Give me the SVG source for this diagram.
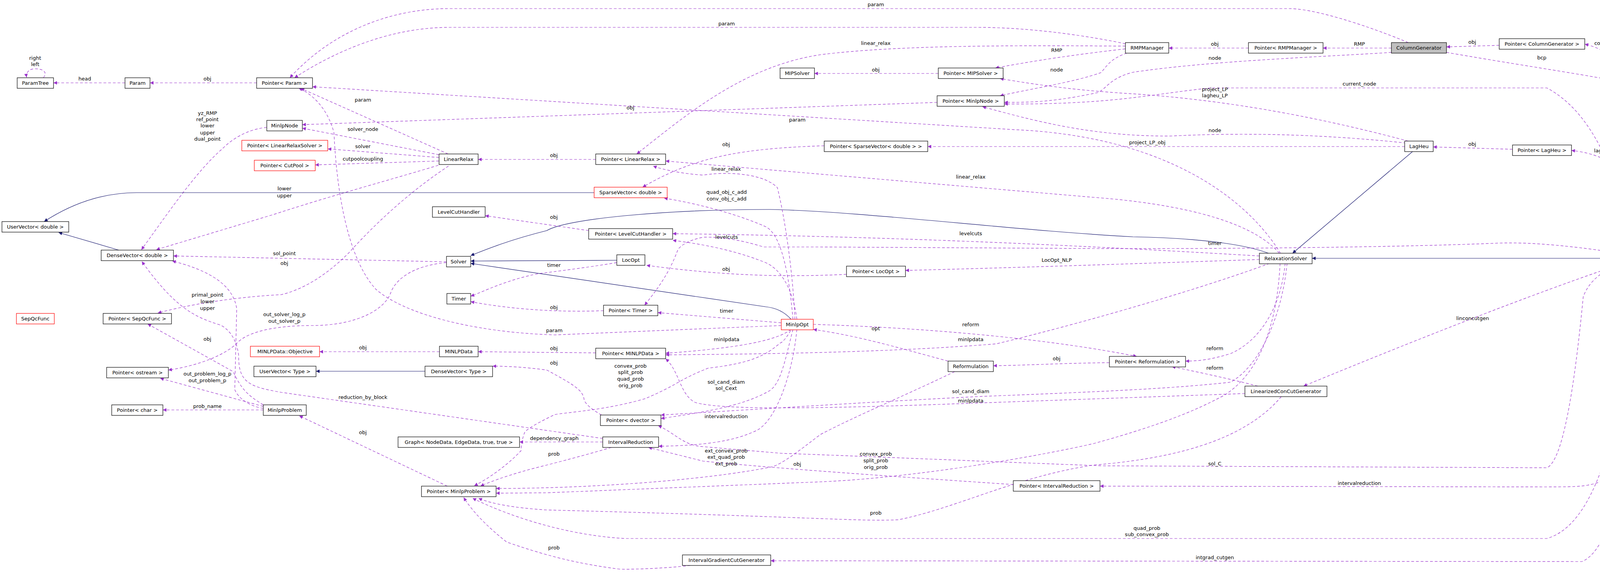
<svg xmlns="http://www.w3.org/2000/svg" width="4245" height="1497" viewBox="0 0 4245 1497">
<style>
text{font-family:"DejaVu Sans","Liberation Sans",sans-serif;font-size:13px;fill:#000}
.nt{text-anchor:middle}
.lb{text-anchor:middle}
rect{fill:#fff;stroke:#000;stroke-width:1.2}
rect.red{stroke:#ff0000}
rect.gray{fill:#bfbfbf}
.e{fill:none;stroke:#9a32cd;stroke-width:1.2;stroke-dasharray:7,5;marker-end:url(#ap)}
.i{fill:none;stroke:#191970;stroke-width:1.2;marker-end:url(#ab)}
</style>
<defs>
<marker id="ap" viewBox="0 0 10 10" refX="10" refY="5" markerWidth="13" markerHeight="9" markerUnits="userSpaceOnUse" orient="auto"><path d="M0,0 L10,5 L0,10 z" fill="#9a32cd"/></marker>
<marker id="ab" viewBox="0 0 10 10" refX="10" refY="5" markerWidth="13" markerHeight="9" markerUnits="userSpaceOnUse" orient="auto"><path d="M0,0 L10,5 L0,10 z" fill="#191970"/></marker>
</defs>
<rect x="0" y="0" width="4245" height="1497" style="fill:#fff;stroke:none"/>
<g id="connectors">
<path class="e" d="M111,199 C122,185 112,176 90,176 C74,176 66,186 68,198"/>
<text class="lb" x="90" y="153">right</text><text class="lb" x="90" y="169">left</text>
<path class="e" d="M320,212 L137,212"/><text class="lb" x="217" y="206">head</text>
<path class="e" d="M657,212 L384,212"/><text class="lb" x="531" y="206">obj</text>
<path class="e" d="M3605,109 C3550,85 3380,22 3300,22 L1150,22 C1000,22 850,80 742,199"/><text class="lb" x="2242" y="16">param</text>
<path class="e" d="M2881,112 C2800,95 2650,70 2500,70 L1150,70 C1000,70 860,130 754,199"/><text class="lb" x="1860" y="65">param</text>
<path class="e" d="M1147,394 L770,226"/><text class="lb" x="929" y="260">param</text>
<path class="e" d="M3278,648 C3200,520 3000,350 2600,332 L800,222"/><text class="lb" x="2041" y="311">param</text>
<path class="e" d="M2000,833 L1420,857 C1200,850 1030,800 962,740 C880,650 860,450 855,340 C840,280 800,240 765,226"/><text class="lb" x="1419" y="850">param</text>
<path class="e" d="M683,326 C640,330 600,350 570,380 C500,440 420,560 362,639"/>
<text class="lb" x="531" y="294">yz_RMP</text><text class="lb" x="531" y="310">ref_point</text><text class="lb" x="531" y="326">lower</text><text class="lb" x="531" y="344">upper</text><text class="lb" x="531" y="360">dual_point</text>
<path class="e" d="M1124,396 L774,328"/><text class="lb" x="929" y="335">solver_node</text>
<path class="e" d="M2399,262 L774,319"/><text class="lb" x="1614" y="280">obj</text>
<path class="e" d="M1124,403 L839,381"/><text class="lb" x="929" y="379">solver</text>
<path class="e" d="M1124,412 L807,422"/><text class="lb" x="929" y="411">cutpoolcoupling</text>
<path class="e" d="M1525,408 L1224,408"/><text class="lb" x="1418" y="402">obj</text>
<path class="e" d="M1122,423 C1000,460 850,500 700,549 L400,639"/><text class="lb" x="728" y="487">lower</text><text class="lb" x="728" y="505">upper</text>
<path class="e" d="M1148,425 C1080,470 990,540 893,647 C840,700 780,740 720,754 C600,760 480,780 404,801"/>
<text class="lb" x="728" y="678">obj</text>
<text class="lb" x="531" y="759">primal_point</text><text class="lb" x="531" y="776">lower</text><text class="lb" x="531" y="793">upper</text>
<path class="e" d="M674,1045 C640,1040 610,1020 601,997 L606,790 C600,750 570,700 441,668"/>
<path class="e" d="M1543,1122 L720,1004 C640,990 610,980 611,910 C605,860 580,840 565,832 C500,812 450,790 363,669"/><text class="lb" x="929" y="1021">reduction_by_block</text>
<path class="e" d="M674,1036 C630,1010 615,990 597,951 L378,829"/><text class="lb" x="531" y="872">obj</text>
<path class="e" d="M674,1040 L410,968"/><text class="lb" x="531" y="961">out_problem_log_p</text><text class="lb" x="531" y="978">out_problem_p</text>
<path class="e" d="M674,1049 L417,1049"/><text class="lb" x="531" y="1044">prob_name</text>
<path class="e" d="M1143,672 C1050,680 1010,720 1000,750 C980,800 900,833 800,833 C700,833 630,850 605,880 C560,920 480,940 431,947"/><text class="lb" x="728" y="809">out_solver_log_p</text><text class="lb" x="728" y="826">out_solver_p</text>
<path class="e" d="M1143,670 L444,655"/><text class="lb" x="728" y="653">sol_point</text>
<path class="e" d="M1579,672 C1500,685 1420,695 1380,700 C1300,715 1240,745 1205,758"/><text class="lb" x="1418" y="683">timer</text>
<path class="e" d="M1545,795 C1420,800 1300,790 1205,772"/><text class="lb" x="1418" y="791">obj</text>
<path class="i" d="M1521,493 L350,493 C250,493 170,530 113,567"/>
<path class="i" d="M304,640 L150,595"/>
<path class="i" d="M3247,648 C3200,630 3100,610 2900,606 C2600,590 2200,540 1970,536 C1700,536 1450,560 1400,590 C1300,615 1240,640 1205,654"/>
<path class="i" d="M1579,666 L1205,668"/>
<path class="i" d="M2025,817 C2010,800 1990,788 1960,785 L1205,674"/>
<path class="i" d="M3616,388 L3309,648"/>
<path class="i" d="M4150,661 L3359,661"/>
<path class="i" d="M1088,950 L809,950"/>
<path class="e" d="M2402,188 L2085,188"/><text class="lb" x="2242" y="183">obj</text>
<path class="e" d="M2881,125 C2750,140 2650,155 2548,174"/><text class="lb" x="2705" y="133">RMP</text>
<path class="e" d="M2881,118 C2600,116 2300,115 2100,140 C1900,170 1750,300 1630,394"/><text class="lb" x="2242" y="115">linear_relax</text>
<path class="e" d="M2885,136 C2840,150 2830,175 2818,186 C2750,210 2650,225 2560,245"/><text class="lb" x="2705" y="183">node</text>
<path class="e" d="M3196,123 L2992,123"/><text class="lb" x="3110" y="117">obj</text>
<path class="e" d="M3562,123 L3387,123"/><text class="lb" x="3480" y="117">RMP</text>
<path class="e" d="M3562,134 C3400,145 3100,155 2900,185 C2840,200 2830,230 2810,237 C2700,260 2650,262 2571,262"/><text class="lb" x="3110" y="153">node</text>
<path class="e" d="M4190,648 C4150,500 4100,300 3960,225 L3100,225 C2950,240 2850,268 2571,266"/><text class="lb" x="3480" y="219">current_node</text>
<path class="e" d="M3600,366 C3400,345 3200,338 3000,348 C2800,350 2650,310 2515,273"/><text class="lb" x="3110" y="338">node</text>
<path class="e" d="M3605,361 C3450,320 3200,260 2900,240 C2800,234 2700,225 2560,201"/><text class="lb" x="3110" y="233">project_LP</text><text class="lb" x="3110" y="249">lagheu_LP</text>
<path class="e" d="M3596,375 L2375,375"/><text class="lb" x="2937" y="369">project_LP_obj</text>
<path class="e" d="M2110,373 C1900,380 1780,400 1645,479"/><text class="lb" x="1859" y="374">obj</text>
<path class="e" d="M3275,648 C3200,560 3000,520 2800,505 L1704,412"/><text class="lb" x="2485" y="457">linear_relax</text>
<path class="e" d="M2035,817 C2030,700 2010,560 1990,480 C1950,440 1850,440 1800,448 C1750,445 1700,435 1672,425"/><text class="lb" x="1859" y="437">linear_relax</text>
<path class="e" d="M2030,817 C2020,700 2000,600 1960,580 C1880,545 1780,520 1700,507"/><text class="lb" x="1860" y="496">quad_obj_c_add</text><text class="lb" x="1860" y="513">conv_obj_c_add</text>
<path class="e" d="M2040,817 C2030,740 2000,690 1960,672 C1880,640 1800,625 1722,615"/><text class="lb" x="1860" y="611">levelcuts</text>
<path class="e" d="M3224,655 C2800,630 2300,605 1722,598"/><text class="lb" x="2485" y="602">levelcuts</text>
<path class="e" d="M1507,590 L1242,552"/><text class="lb" x="1418" y="560">obj</text>
<path class="e" d="M3224,664 C2900,675 2600,685 2318,692"/><text class="lb" x="2705" y="670">LocOpt_NLP</text>
<path class="e" d="M2167,702 C2000,710 1850,705 1655,679"/><text class="lb" x="1859" y="693">obj</text>
<path class="e" d="M4145,648 C4000,625 3900,620 3840,622 C3600,632 3200,637 2800,636 L2100,632 L1955,632 C1900,615 1850,606 1800,607 C1760,615 1740,630 1735,640 C1720,680 1700,720 1650,781"/><text class="lb" x="3110" y="627">timer</text>
<path class="e" d="M2000,826 L1684,800"/><text class="lb" x="1860" y="800">timer</text>
<path class="e" d="M2025,843 C1990,870 1900,890 1704,904"/><text class="lb" x="1860" y="873">minlpdata</text>
<path class="e" d="M3250,674 C3100,730 2800,820 2550,880 C2300,900 2000,906 1704,908"/><text class="lb" x="2485" y="873">minlpdata</text>
<path class="e" d="M1525,903 L1224,900"/><text class="lb" x="1418" y="896">obj</text>
<path class="e" d="M1125,900 L818,900"/><text class="lb" x="929" y="894">obj</text>
<path class="e" d="M2427,924 C2300,890 2200,860 2082,843"/><text class="lb" x="2242" y="845">opt</text>
<path class="e" d="M2082,830 C2400,840 2700,870 2910,912"/><text class="lb" x="2485" y="835">reform</text>
<path class="e" d="M2840,928 C2700,930 2650,934 2543,936"/><text class="lb" x="2705" y="922">obj</text>
<path class="e" d="M3290,674 C3280,780 3230,870 3150,905 C3100,920 3070,924 3035,924"/><text class="lb" x="3110" y="896">reform</text>
<path class="e" d="M3220,988 C3150,970 3080,955 3000,938"/><text class="lb" x="3110" y="946">reform</text>
<path class="e" d="M4155,674 C3900,760 3600,880 3337,988"/><text class="lb" x="3770" y="819">linconcutgen</text>
<path class="e" d="M3295,674 C3280,820 3220,940 3150,978 C3000,995 2800,1003 2500,1015 C2200,1030 1900,1050 1692,1062"/><text class="lb" x="2485" y="1006">sol_cand_diam</text>
<path class="e" d="M3187,1007 L2400,1035 C2100,1045 1850,1050 1780,1030 C1740,1010 1740,950 1704,918"/><text class="lb" x="2485" y="1030">minlpdata</text>
<path class="e" d="M2030,843 C2010,920 2000,980 1970,1000 C1900,1040 1800,1055 1692,1071"/><text class="lb" x="1859" y="982">sol_cand_diam</text><text class="lb" x="1859" y="998">sol_Cext</text>
<path class="e" d="M2040,843 C2030,950 1990,1070 1940,1100 C1880,1130 1800,1140 1686,1142"/><text class="lb" x="1859" y="1070">intervalreduction</text>
<path class="e" d="M4150,674 C4080,700 4060,740 4053,760 C4030,1000 4000,1180 3960,1197 L2820,1192 C2500,1180 2200,1167 2000,1160 L1800,1143 C1750,1140 1730,1110 1685,1089"/><text class="lb" x="3110" y="1191">sol_C</text>
<path class="e" d="M2594,1240 C2300,1220 2000,1200 1800,1180 L1660,1145"/><text class="lb" x="2041" y="1192">obj</text>
<path class="e" d="M4185,674 C4170,900 4150,1150 4130,1215 C4080,1250 4030,1245 3960,1246 L2816,1244"/><text class="lb" x="3480" y="1241">intervalreduction</text>
<path class="e" d="M4190,674 C4170,900 4130,1330 3960,1378 L1600,1378 C1450,1370 1300,1320 1210,1275"/><text class="lb" x="2936" y="1356">quad_prob</text><text class="lb" x="2936" y="1372">sub_convex_prob</text>
<path class="e" d="M4195,674 C4180,1000 4160,1390 4050,1437 L1973,1435"/><text class="lb" x="3110" y="1431">intgrad_cutgen</text>
<path class="e" d="M1767,1447 C1700,1455 1600,1458 1583,1456 C1500,1445 1420,1430 1297,1387 C1250,1350 1210,1310 1187,1273"/><text class="lb" x="1418" y="1406">prob</text>
<path class="e" d="M3277,674 C3270,820 3230,950 3135,1011 C3080,1040 3000,1080 2800,1135 C2600,1180 2300,1225 2100,1233 L1400,1261 L1270,1262"/><text class="lb" x="2242" y="1166">convex_prob</text><text class="lb" x="2242" y="1183">split_prob</text><text class="lb" x="2242" y="1200">orig_prob</text>
<path class="e" d="M3280,1015 C3200,1110 3050,1170 2800,1190 C2600,1220 2450,1300 2300,1330 C2200,1335 2100,1323 1400,1305 C1320,1300 1260,1290 1225,1275"/><text class="lb" x="2242" y="1317">prob</text>
<path class="e" d="M2444,951 C2300,1020 2200,1060 2100,1112 C2050,1150 2000,1190 1974,1195 C1800,1230 1500,1250 1270,1250"/><text class="lb" x="1859" y="1158">ext_convex_prob</text><text class="lb" x="1859" y="1174">ext_quad_prob</text><text class="lb" x="1859" y="1191">ext_prob</text>
<path class="e" d="M2024,846 C2010,870 2000,878 1997,878 C1960,910 1920,930 1813,942 C1780,955 1760,965 1735,979 C1700,1000 1652,1020 1652,1020 C1550,1050 1450,1055 1420,1061 C1380,1080 1345,1100 1343,1107 C1334,1130 1334,1150 1334,1153 C1300,1190 1250,1225 1214,1243"/><text class="lb" x="1614" y="941">convex_prob</text><text class="lb" x="1614" y="957">split_prob</text><text class="lb" x="1614" y="974">quad_prob</text><text class="lb" x="1614" y="991">orig_prob</text>
<path class="e" d="M1543,1131 L1330,1131"/><text class="lb" x="1419" y="1126">dependency_graph</text>
<path class="e" d="M1565,1145 C1480,1170 1400,1190 1380,1195 C1320,1210 1260,1230 1230,1244"/><text class="lb" x="1418" y="1166">prob</text>
<path class="e" d="M1145,1244 L766,1064"/><text class="lb" x="929" y="1111">obj</text>
<path class="e" d="M1540,1062 C1510,1045 1495,1030 1495,1020 C1490,1000 1480,990 1400,947 C1350,940 1300,937 1261,937"/><text class="lb" x="1418" y="933">obj</text>
<path class="e" d="M3703,134 C3850,160 4050,190 4125,205 C4160,230 4180,400 4190,646"/><text class="lb" x="3947" y="152">bcp</text>
<path class="e" d="M4190,648 C4180,450 4170,200 4130,150 C4110,130 4080,118 4057,113"/><text class="lb" x="4103" y="115">colgen</text>
<path class="e" d="M3838,116 L3703,120"/><text class="lb" x="3769" y="112">obj</text>
<path class="e" d="M4190,648 C4180,550 4170,460 4130,420 C4090,395 4050,388 4023,385"/><text class="lb" x="4103" y="390">lagheu</text>
<path class="e" d="M3872,382 L3669,376"/><text class="lb" x="3769" y="373">obj</text>
</g>
<g id="ParamTree"><rect x="44" y="199" width="93" height="27"/><text class="nt" x="90.5" y="217">ParamTree</text></g>
<g id="Param"><rect x="320" y="199" width="64" height="27"/><text class="nt" x="352" y="217">Param</text></g>
<g id="PointerParam"><rect x="657" y="199" width="143" height="27"/><text class="nt" x="728.5" y="217">Pointer&lt; Param &gt;</text></g>
<g id="UserVectorDouble"><rect x="5" y="567" width="171" height="27"/><text class="nt" x="90.5" y="585">UserVector&lt; double &gt;</text></g>
<g id="DenseVectorDouble"><rect x="259" y="640" width="185" height="27"/><text class="nt" x="351.5" y="658">DenseVector&lt; double &gt;</text></g>
<g id="MinlpNode"><rect x="683" y="308" width="91" height="27"/><text class="nt" x="728.5" y="326">MinlpNode</text></g>
<g id="PointerLinearRelaxSolver"><rect class="red" x="619" y="359" width="220" height="27"/><text class="nt" x="729" y="377">Pointer&lt; LinearRelaxSolver &gt;</text></g>
<g id="PointerCutPool"><rect class="red" x="651" y="410" width="156" height="27"/><text class="nt" x="729" y="428">Pointer&lt; CutPool &gt;</text></g>
<g id="LinearRelax"><rect x="1124" y="394" width="100" height="27"/><text class="nt" x="1174" y="412">LinearRelax</text></g>
<g id="LevelCutHandler"><rect x="1107" y="529" width="135" height="27"/><text class="nt" x="1174.5" y="547">LevelCutHandler</text></g>
<g id="Solver"><rect x="1143" y="656" width="62" height="27"/><text class="nt" x="1174" y="674">Solver</text></g>
<g id="MIPSolver"><rect x="1997" y="174" width="88" height="27"/><text class="nt" x="2041" y="192">MIPSolver</text></g>
<g id="PointerLinearRelax"><rect x="1525" y="394" width="179" height="27"/><text class="nt" x="1614.5" y="412">Pointer&lt; LinearRelax &gt;</text></g>
<g id="SparseVectorDouble"><rect class="red" x="1521" y="479" width="187" height="27"/><text class="nt" x="1614.5" y="497">SparseVector&lt; double &gt;</text></g>
<g id="PointerLevelCutHandler"><rect x="1507" y="585" width="215" height="27"/><text class="nt" x="1614.5" y="603">Pointer&lt; LevelCutHandler &gt;</text></g>
<g id="LocOpt"><rect x="1579" y="652" width="72" height="27"/><text class="nt" x="1615" y="670">LocOpt</text></g>
<g id="PointerMIPSolver"><rect x="2402" y="174" width="166" height="27"/><text class="nt" x="2485" y="192">Pointer&lt; MIPSolver &gt;</text></g>
<g id="PointerMinlpNode"><rect x="2399" y="245" width="172" height="27"/><text class="nt" x="2485" y="263">Pointer&lt; MinlpNode &gt;</text></g>
<g id="PointerSparseVector"><rect x="2110" y="361" width="265" height="27"/><text class="nt" x="2242.5" y="379">Pointer&lt; SparseVector&lt; double &gt; &gt;</text></g>
<g id="PointerLocOpt"><rect x="2167" y="681" width="151" height="27"/><text class="nt" x="2242.5" y="699">Pointer&lt; LocOpt &gt;</text></g>
<g id="RMPManager"><rect x="2881" y="109" width="111" height="27"/><text class="nt" x="2936.5" y="127">RMPManager</text></g>
<g id="PointerRMPManager"><rect x="3196" y="109" width="191" height="27"/><text class="nt" x="3291.5" y="127">Pointer&lt; RMPManager &gt;</text></g>
<g id="RelaxationSolver"><rect x="3224" y="648" width="135" height="27"/><text class="nt" x="3291.5" y="666">RelaxationSolver</text></g>
<g id="ColumnGenerator"><rect class="gray" x="3562" y="109" width="141" height="27"/><text class="nt" x="3632.5" y="127">ColumnGenerator</text></g>
<g id="PointerColumnGenerator"><rect x="3838" y="99" width="219" height="27"/><text class="nt" x="3947.5" y="117">Pointer&lt; ColumnGenerator &gt;</text></g>
<g id="LagHeu"><rect x="3596" y="361" width="73" height="27"/><text class="nt" x="3632.5" y="379">LagHeu</text></g>
<g id="PointerLagHeu"><rect x="3872" y="371" width="151" height="27"/><text class="nt" x="3947.5" y="389">Pointer&lt; LagHeu &gt;</text></g>
<g id="MinlpBCP"><rect x="4150" y="648" width="85" height="27"/><text class="nt" x="4192.5" y="666">MinlpBCP</text></g>
<g id="SepQcFunc"><rect class="red" x="42" y="802" width="97" height="27"/><text class="nt" x="90.5" y="820">SepQcFunc</text></g>
<g id="PointerSepQcFunc"><rect x="264" y="802" width="175" height="27"/><text class="nt" x="351.5" y="820">Pointer&lt; SepQcFunc &gt;</text></g>
<g id="PointerOstream"><rect x="273" y="940" width="158" height="27"/><text class="nt" x="352" y="958">Pointer&lt; ostream &gt;</text></g>
<g id="PointerChar"><rect x="286" y="1036" width="131" height="27"/><text class="nt" x="351.5" y="1054">Pointer&lt; char &gt;</text></g>
<g id="MinlpProblem"><rect x="674" y="1036" width="110" height="27"/><text class="nt" x="729" y="1054">MinlpProblem</text></g>
<g id="MINLPDataObjective"><rect class="red" x="641" y="886" width="177" height="27"/><text class="nt" x="729.5" y="904">MINLPData::Objective</text></g>
<g id="UserVectorType"><rect x="650" y="937" width="159" height="27"/><text class="nt" x="729.5" y="955">UserVector&lt; Type &gt;</text></g>
<g id="Timer"><rect x="1144" y="751" width="61" height="27"/><text class="nt" x="1174.5" y="769">Timer</text></g>
<g id="MINLPData"><rect x="1125" y="886" width="99" height="27"/><text class="nt" x="1174.5" y="904">MINLPData</text></g>
<g id="DenseVectorType"><rect x="1088" y="937" width="173" height="27"/><text class="nt" x="1174.5" y="955">DenseVector&lt; Type &gt;</text></g>
<g id="Graph"><rect x="1019" y="1118" width="311" height="27"/><text class="nt" x="1174.5" y="1136">Graph&lt; NodeData, EdgeData, true, true &gt;</text></g>
<g id="PointerMinlpProblem"><rect x="1079" y="1244" width="191" height="27"/><text class="nt" x="1174.5" y="1262">Pointer&lt; MinlpProblem &gt;</text></g>
<g id="PointerTimer"><rect x="1545" y="781" width="139" height="27"/><text class="nt" x="1614.5" y="799">Pointer&lt; Timer &gt;</text></g>
<g id="MinlpOpt"><rect class="red" x="2000" y="817" width="82" height="27"/><text class="nt" x="2041" y="835">MinlpOpt</text></g>
<g id="PointerMINLPData"><rect x="1525" y="891" width="179" height="27"/><text class="nt" x="1614.5" y="909">Pointer&lt; MINLPData &gt;</text></g>
<g id="PointerDvector"><rect x="1537" y="1062" width="155" height="27"/><text class="nt" x="1614.5" y="1080">Pointer&lt; dvector &gt;</text></g>
<g id="IntervalReduction"><rect x="1543" y="1118" width="143" height="27"/><text class="nt" x="1614.5" y="1136">IntervalReduction</text></g>
<g id="IntervalGradientCutGenerator"><rect x="1747" y="1420" width="226" height="27"/><text class="nt" x="1860" y="1438">IntervalGradientCutGenerator</text></g>
<g id="Reformulation"><rect x="2427" y="924" width="116" height="27"/><text class="nt" x="2485" y="942">Reformulation</text></g>
<g id="PointerIntervalReduction"><rect x="2594" y="1230" width="222" height="27"/><text class="nt" x="2705" y="1248">Pointer&lt; IntervalReduction &gt;</text></g>
<g id="PointerReformulation"><rect x="2840" y="912" width="195" height="27"/><text class="nt" x="2937.5" y="930">Pointer&lt; Reformulation &gt;</text></g>
<g id="LinearizedConCutGenerator"><rect x="3187" y="988" width="210" height="27"/><text class="nt" x="3292" y="1006">LinearizedConCutGenerator</text></g>
</svg>
